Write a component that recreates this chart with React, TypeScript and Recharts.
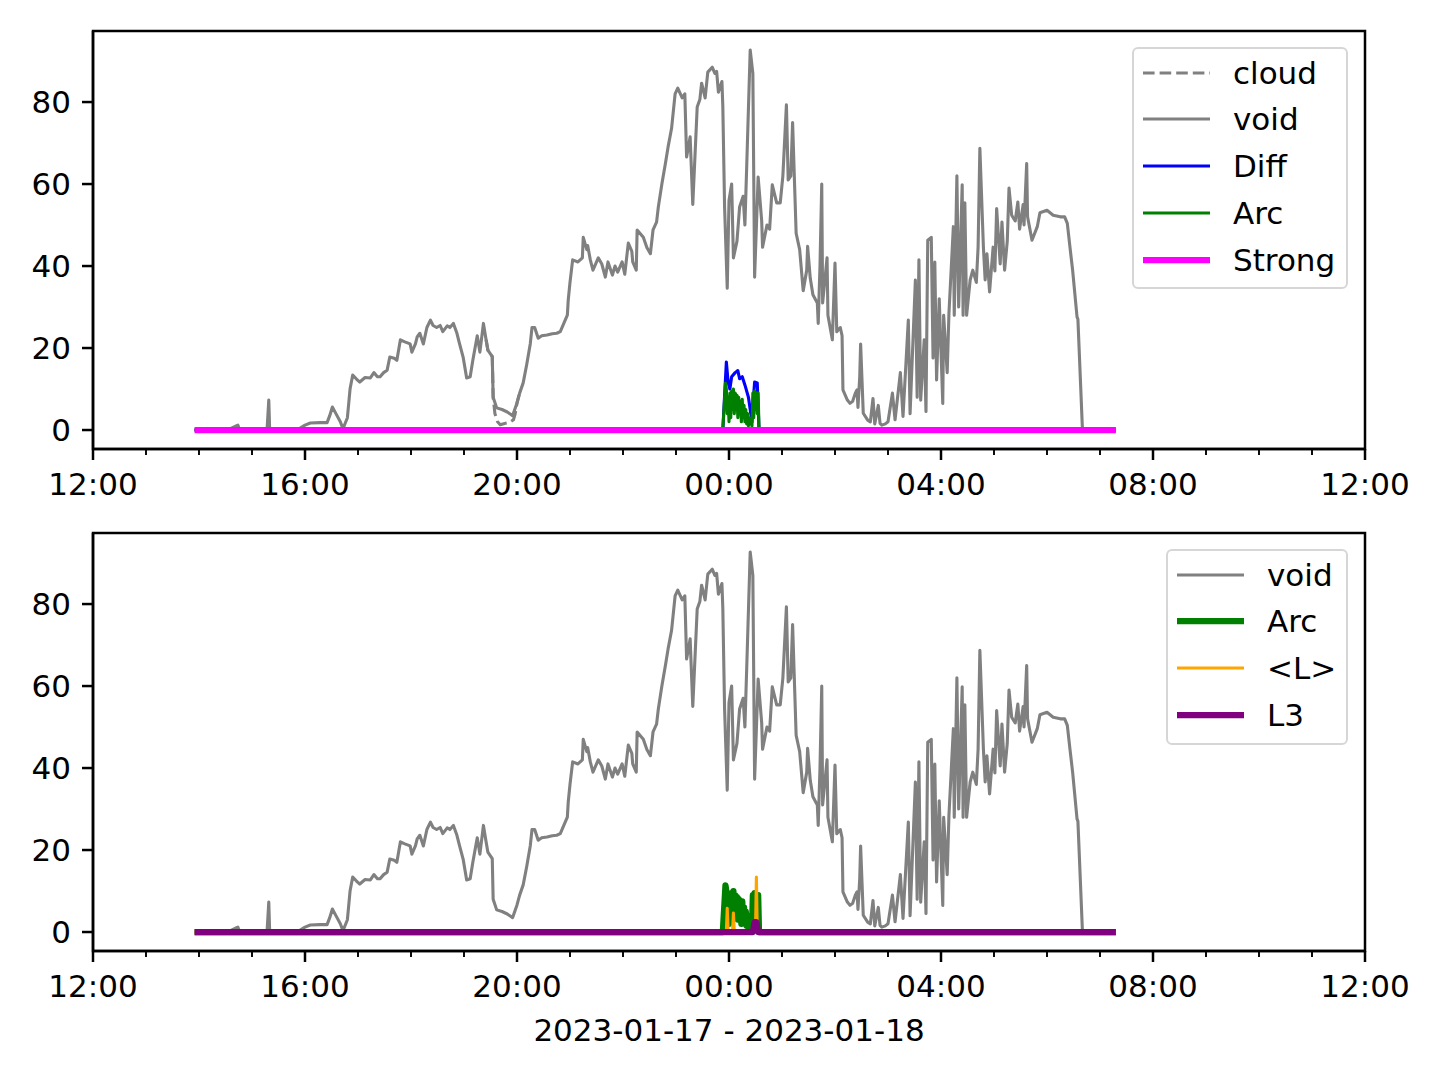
import { LineChart, Line, XAxis, YAxis, ReferenceArea } from 'recharts';

// minutes since 2023-01-17 12:00, value
const VOID_PTS: [number, number][] = [
  [115, 0], [155, 0.3], [162, 1.0], [164, 1.2], [166, 0], [197, 0], [199, 7.3], [200, 0], [231, 0],
  [240, 1.2], [246, 1.7], [257, 1.8], [265, 1.8], [268, 3.5], [271, 5.6], [275, 4], [280, 2], [283, 0.3],
  [288, 3], [291, 10], [294, 13.4], [298, 12.5], [302, 11.7], [308, 12.8], [314, 12.7], [318, 14],
  [322, 13], [325, 13], [329, 14], [333, 14.6], [336, 17.8], [341, 17.5], [344, 17], [348, 22],
  [353, 21.5], [359, 21], [361, 19], [365, 21], [367, 22.7], [370, 23.6], [374, 21], [378, 25],
  [382, 26.8], [385, 25.5], [389, 25], [393, 25.5], [396, 24], [401, 25.4], [404, 25], [408, 26],
  [412, 23.6], [415, 21], [419, 17.8], [423, 12.7], [427, 13], [430, 17], [435, 23], [438, 19],
  [442, 26], [445, 22], [447, 19.5], [452, 17.9], [453, 8], [457, 5.4], [463, 5], [469, 4.4],
  [475, 3.5], [480, 6.6], [483, 9], [487, 11.5], [491, 16], [495, 21], [497, 25], [500, 25],
  [504, 22.4], [508, 23], [514, 23.2], [520, 23.5], [525, 23.6], [529, 24], [533, 26], [537, 28],
  [538, 31.7], [540, 36], [543, 41.5], [549, 41], [554, 42], [555, 47], [559, 44], [560, 45],
  [563, 41.5], [566, 39], [572, 42], [576, 40.5], [580, 37.3], [583, 41], [588, 37.8], [591, 40],
  [594, 38.5], [599, 41], [602, 38], [606, 45.6], [610, 43.6], [611, 41], [615, 39], [616, 48.8],
  [623, 47], [627, 44.5], [631, 43], [634, 48.8], [638, 50.7], [640, 54.4], [644, 60], [648, 65],
  [651, 69], [655, 73.6], [659, 82], [662, 83.4], [667, 81], [670, 82], [672, 66.6], [676, 71.5],
  [679, 55], [684, 78.8], [687, 80.6], [689, 84.6], [693, 81], [696, 87.3], [701, 88.5], [704, 87],
  [706, 87.5], [708, 82.4], [712, 85], [713, 79], [715, 54.4], [718, 34.6], [720, 56], [723, 60],
  [725, 42], [729, 46], [732, 54.4], [736, 57], [738, 50], [740, 64], [744, 92.7], [747, 87],
  [749, 37.3], [753, 61.7], [757, 51], [758, 44.6], [763, 50], [766, 49], [769, 59.8], [774, 55.4],
  [778, 55.4], [781, 62], [785, 79.3], [787, 61], [790, 62], [792, 75], [796, 48], [800, 44],
  [804, 34], [808, 39], [809, 44.8], [812, 37], [815, 33], [820, 31], [821, 26], [823, 40],
  [825, 60], [826, 31], [831, 42], [832, 28], [837, 22], [840, 40.7], [842, 24], [846, 25],
  [848, 23], [849, 9.8], [854, 7.3], [857, 6.5], [860, 7], [863, 9], [865, 9.8], [866, 5.5],
  [868, 13], [869, 21], [872, 4.1], [877, 2.4], [880, 2], [883, 7.7], [885, 1.5], [889, 6],
  [891, 1.6], [893, 1.2], [897, 1.5], [900, 2], [905, 9], [908, 2.5], [914, 14], [917, 3.3],
  [923, 26.8], [925, 4], [931, 36.6], [933, 8], [935, 41.5], [937, 7.3], [941, 22], [943, 4.5],
  [945, 46.3], [949, 47], [951, 17.6], [953, 41], [955, 12.2], [958, 32], [962, 6.5], [963, 28],
  [967, 14], [969, 28.5], [974, 49.6], [975, 28], [978, 62], [980, 30], [984, 59.8], [985, 28],
  [987, 55.4], [989, 28], [993, 36.6], [996, 39], [1000, 36], [1002, 44.6], [1004, 68.7],
  [1008, 44.6], [1010, 36.6], [1012, 43], [1015, 33.7], [1019, 44.6], [1021, 38.8], [1023, 54],
  [1027, 40.5], [1029, 50.7], [1032, 39], [1035, 46], [1037, 59], [1040, 52.4], [1044, 51],
  [1047, 55.6], [1049, 49], [1053, 55], [1054, 50], [1057, 65], [1058, 52], [1063, 46.3],
  [1069, 49.6], [1072, 53], [1080, 53.6], [1087, 52.4], [1095, 52], [1100, 52], [1103, 50.4],
  [1106, 44.6], [1109, 39], [1114, 27.6], [1115, 27], [1120, 0.8], [1121, 0],
];

// cloud only departs from void around 19:40
const CLOUD_PTS: [number, number][] = [
  [445, 22], [447, 19.5], [452, 17.9], [453, 8], [455, 4], [458, 2], [461, 1.3], [466, 1.6],
  [471, 1.8], [476, 2.5], [478, 4], [480, 6.6], [483, 9],
];

const DIFF_PTS: [number, number][] = [
  [115, 0], [713, 0], [717, 16.6], [719, 11.7], [721, 10], [723, 13], [727, 14], [730, 14.5],
  [732, 12.5], [735, 13], [738, 11], [742, 8], [744, 5], [746, 2], [747, 6], [749, 11.7],
  [752, 11.5], [754, 0], [1158, 0],
];

const ARC_PTS: [number, number][] = [
  [115, 0], [713, 0], [716, 11.4], [717, 10], [718, 4], [719, 8], [720, 2], [721, 9], [722, 3],
  [723, 9.5], [724, 5], [725, 10], [726, 4], [727, 9], [728, 6], [729, 8.5], [730, 3], [731, 8],
  [732, 4], [733, 7], [734, 2], [735, 7.5], [736, 3], [737, 6], [738, 2], [739, 5], [740, 1.5],
  [741, 4], [742, 1], [743, 3], [744, 1.5], [745, 2.5], [746, 1], [747, 9], [748, 3], [749, 9.5],
  [750, 5], [751, 9], [752, 4], [753, 9], [754, 0], [1158, 0],
];

const STRONG_PTS: [number, number][] = [[115, 0], [1158, 0]];

const L_PTS: [number, number][] = [
  [115, 0], [717, 0], [718, 5.8], [719, 0], [724, 0], [725, 4.6], [726, 0], [750, 0], [751, 13.4],
  [752, 0], [1158, 0],
];

const L3_PTS: [number, number][] = [[115, 0], [747, 0], [749, 2.4], [751, 2.4], [753, 0], [1158, 0]];

const X_TICKS = [0, 60, 120, 180, 240, 300, 360, 420, 480, 540, 600, 660, 720, 780, 840, 900, 960,
  1020, 1080, 1140, 1200, 1260, 1320, 1380, 1440];
const X_LABELS = ['12:00', '16:00', '20:00', '00:00', '04:00', '08:00', '12:00'];
const Y_TICKS = [0, 20, 40, 60, 80];
const Y_DOMAIN: [number, number] = [-4.63, 97.33];
const X_LABEL = '2023-01-17 - 2023-01-18';

const FONT = 'DejaVu Sans';
const rows = (pts: [number, number][]) => pts.map(([t, v]) => ({ t, v }));

function TimeTick(props: any) {
  const { x, y, payload } = props;
  const major = payload.value % 240 === 0;
  return (
    <g>
      <line x1={x} x2={x} y1={y} y2={y + (major ? 11 : 6)} stroke="#000" strokeWidth={major ? 2.5 : 1.9} />
      {major && (
        <text x={x} y={y + 46} textAnchor="middle" fontSize={31} fontFamily={FONT} fill="#000">
          {X_LABELS[payload.value / 240]}
        </text>
      )}
    </g>
  );
}

type Series = { name: string; pts: [number, number][]; color: string; width: number; dash?: string };

function Panel({ series }: { series: Series[] }) {
  return (
    <LineChart width={1440} height={540} margin={{ top: 31, right: 75, bottom: 0, left: 0 }}>
      <XAxis
        type="number"
        dataKey="t"
        domain={[0, 1440]}
        allowDataOverflow
        ticks={X_TICKS}
        interval={0}
        height={91}
        tickSize={0}
        tickMargin={0}
        tickLine={false}
        axisLine={{ stroke: '#000', strokeWidth: 2.5 }}
        tick={(p: any) => <TimeTick {...p} />}
      />
      <YAxis
        type="number"
        domain={Y_DOMAIN}
        allowDataOverflow
        ticks={Y_TICKS}
        width={93}
        tickSize={11}
        tickMargin={11}
        tickLine={{ stroke: '#000', strokeWidth: 2.5 }}
        axisLine={{ stroke: '#000', strokeWidth: 2.5 }}
        tick={{ fill: '#000', fontSize: 31, fontFamily: FONT }}
      />
      {series.map(s => (
        <Line
          key={s.name}
          data={rows(s.pts)}
          dataKey="v"
          name={s.name}
          type="linear"
          stroke={s.color}
          strokeWidth={s.width}
          strokeDasharray={s.dash}
          strokeLinejoin="round"
          dot={false}
          activeDot={false}
          isAnimationActive={false}
        />
      ))}
      <ReferenceArea x1={0} x2={1440} y1={Y_DOMAIN[0]} y2={Y_DOMAIN[1]} fill="none" stroke="#000" strokeWidth={2.5} />
    </LineChart>
  );
}

function LegendBox({ items, left, top, width, height }: { items: Series[]; left: number; top: number; width: number; height: number }) {
  return (
    <div
      style={{
        position: 'absolute', left, top, width, height, boxSizing: 'border-box',
        border: '2px solid #d6d6d6', borderRadius: 6, background: 'rgba(255,255,255,0.8)',
      }}
    >
      {items.map((s, i) => {
        const cy = 23.5 + i * 46.8;
        return (
          <div key={s.name}>
            <svg style={{ position: 'absolute', left: 6, top: cy - 6 }} width={72} height={12}>
              <line x1={3} x2={70} y1={6} y2={6} stroke={s.color} strokeWidth={s.width} strokeDasharray={s.dash} />
            </svg>
            <div
              style={{
                position: 'absolute', left: 99, top: cy - 15, fontSize: 31, lineHeight: '31px',
                fontFamily: FONT, color: '#000', whiteSpace: 'nowrap',
              }}
            >
              {s.name}
            </div>
          </div>
        );
      })}
    </div>
  );
}

const TOP_SERIES: Series[] = [
  { name: 'cloud', pts: CLOUD_PTS, color: '#808080', width: 3.1, dash: '11.6 5' },
  { name: 'void', pts: VOID_PTS, color: '#808080', width: 3.1 },
  { name: 'Diff', pts: DIFF_PTS, color: '#0000ff', width: 3.1 },
  { name: 'Arc', pts: ARC_PTS, color: '#008000', width: 3.1 },
  { name: 'Strong', pts: STRONG_PTS, color: '#ff00ff', width: 6.25 },
];

const BOTTOM_SERIES: Series[] = [
  { name: 'void', pts: VOID_PTS, color: '#808080', width: 3.1 },
  { name: 'Arc', pts: ARC_PTS, color: '#008000', width: 6.25 },
  { name: '<L>', pts: L_PTS, color: '#ffa500', width: 3.1 },
  { name: 'L3', pts: L3_PTS, color: '#800080', width: 6.25 },
];

export default function App() {
  return (
    <div style={{ position: 'absolute', left: 0, top: 0, width: 1440, height: 1080, background: '#fff', fontFamily: FONT }}>
      <div style={{ position: 'absolute', left: 0, top: 0 }}>
        <Panel series={TOP_SERIES} />
      </div>
      <div style={{ position: 'absolute', left: 0, top: 502 }}>
        <Panel series={BOTTOM_SERIES} />
      </div>
      <LegendBox items={TOP_SERIES} left={1132} top={47} width={216} height={242} />
      <LegendBox items={BOTTOM_SERIES} left={1166} top={549} width={182} height={196} />
      <div
        style={{
          position: 'absolute', left: 93, width: 1272, top: 1015, textAlign: 'center',
          fontSize: 31, lineHeight: '31px', fontFamily: FONT, color: '#000',
        }}
      >
        {X_LABEL}
      </div>
    </div>
  );
}
